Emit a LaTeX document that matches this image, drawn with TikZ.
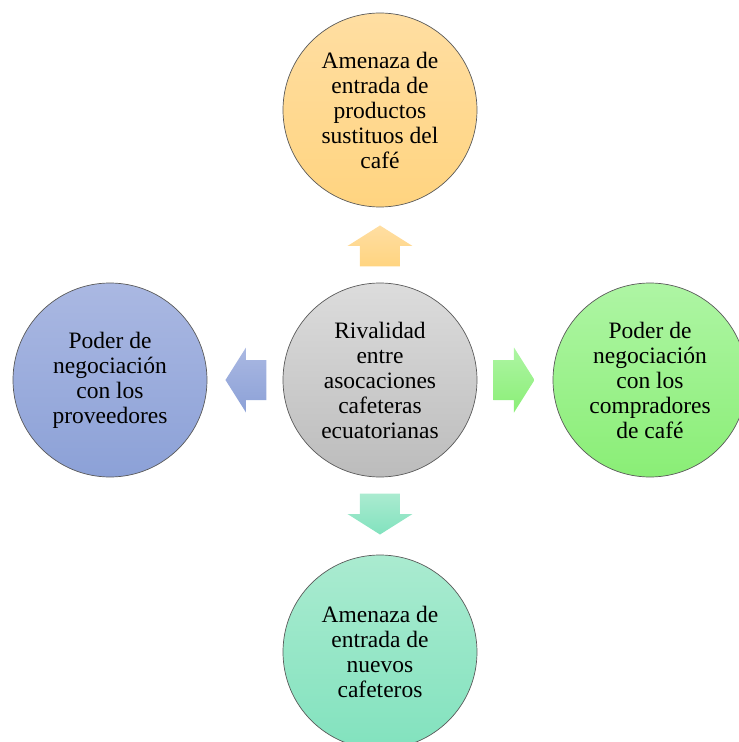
\documentclass[tikz,border=0pt]{standalone}
\usepackage{fontspec}
\setmainfont{Liberation Serif}
\definecolor{orTop}{RGB}{255,222,162}
\definecolor{orBot}{RGB}{255,212,128}
\definecolor{blTop}{RGB}{170,184,226}
\definecolor{blBot}{RGB}{140,161,215}
\definecolor{grTop}{RGB}{174,245,164}
\definecolor{grBot}{RGB}{138,238,118}
\definecolor{gyTop}{RGB}{220,220,220}
\definecolor{gyBot}{RGB}{188,188,188}
\definecolor{tlTop}{RGB}{170,235,208}
\definecolor{tlBot}{RGB}{130,226,190}
\tikzset{
  ball/.style={circle, draw=black!65, line width=0.7pt, minimum size=194pt, inner sep=0pt,
    align=center, font=\fontsize{23.5}{25}\selectfont},
  ballor/.style={ball, top color=orTop, bottom color=orBot},
  ballbl/.style={ball, top color=blTop, bottom color=blBot},
  ballgr/.style={ball, top color=grTop, bottom color=grBot},
  ballgy/.style={ball, top color=gyTop, bottom color=gyBot},
  balltl/.style={ball, top color=tlTop, bottom color=tlBot}
}
\begin{document}
\begin{tikzpicture}[x=1pt, y=1pt]
    \useasboundingbox (-380,-362) rectangle (359,380);

    % Forces
    \node[ballgy] (rival) at (0,0) {Rivalidad\\entre\\asocaciones\\cafeteras\\ecuatorianas};
    \node[ballor] (sustitutos) at (0,270) {Amenaza de\\entrada de\\productos\\sustituos del\\café};
    \node[ballbl] (proveedores) at (-270,0) {Poder de\\negociación\\con los\\proveedores};
    \node[ballgr] (compradores) at (270,0) {Poder de\\negociación\\con los\\compradores\\de café};
    \node[balltl] (nuevos) at (0,-272) {Amenaza de\\entrada de\\nuevos\\cafeteros};

    % Block arrows from the centre
    \foreach \ang/\c in {90/or, 180/bl, 0/gr, 270/tl} {
        \shade[top color=\c Top, bottom color=\c Bot, shift={(rival.center)},
               x={(\ang:1pt)}, y={(\ang+90:1pt)}]
            (113.5,-20) -- (134,-20) -- (134,-32.5) -- (154.5,0)
            -- (134,32.5) -- (134,20) -- (113.5,20) -- cycle;
    }
\end{tikzpicture}
\end{document}
